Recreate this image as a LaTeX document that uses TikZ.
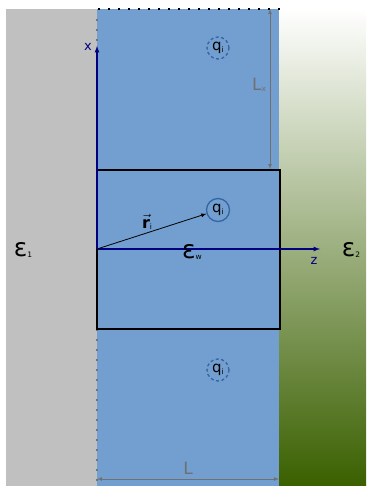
\documentclass[tikz,border=0pt]{standalone}
\usepackage{fontspec}
\usepackage{amsmath}
\setmainfont{DejaVu Sans}
\definecolor{slabgray}{HTML}{C0C0C0}
\definecolor{waterblue}{HTML}{729FCF}
\definecolor{chargeblue}{HTML}{3465A4}
\definecolor{mediumgreen}{HTML}{3A6000}
\definecolor{axisblue}{HTML}{000080}
\definecolor{dimgray}{HTML}{707070}
\newcommand{\tinysub}[1]{\raisebox{-1.5pt}{\fontsize{7.5}{7.5}\selectfont #1}}
\tikzset{
  charge/.style={circle,draw=chargeblue,line width=1.3pt,minimum size=23pt,
    inner sep=0pt,font=\fontsize{15}{15}\selectfont},
  imagecharge/.style={charge,dash pattern=on 3pt off 2.5pt,minimum size=22pt},
  dimline/.style={<->,draw=dimgray,line width=0.7pt},
  dimlabel/.style={text=dimgray,font=\fontsize{17}{17}\selectfont},
  epslabel/.style={font=\fontsize{25}{25}\selectfont},
  axislabel/.style={text=axisblue,font=\fontsize{13}{13}\selectfont}
}
\begin{document}
\begin{tikzpicture}[x=1pt,y=-1pt,>=latex]
  \useasboundingbox (0,0) rectangle (366,486);
  % media
  \fill[slabgray] (6,9) rectangle (97,486);
  \fill[waterblue] (97,9) rectangle (279,486);
  \shade[top color=white,bottom color=mediumgreen] (279,9) rectangle (366,486);
  \draw[black,line width=1.6pt,dash pattern=on 1.6pt off 8.4pt] (98,9) -- (280,9);
  \draw[black!55,line width=1.6pt,dash pattern=on 1.6pt off 8.4pt] (97,19) -- (97,486);
  % unit cell
  \draw[line width=1.4pt] (97,170) rectangle (280,329);
  % axes
  \coordinate (origin) at (97,249);
  \coordinate (xend) at (97,46);
  \coordinate (zend) at (320,249);
  \draw[->,axisblue,line width=1.2pt] (origin) -- (xend);
  \draw[->,axisblue,line width=1.2pt] (origin) -- (zend);
  \node[axislabel] (xlab) at (88,47) {x};
  \node[axislabel] (zlab) at (314,261) {z};
  % charges
  \node[imagecharge] (qtop) at (218,48) {q\tinysub{i}};
  \node[charge] (qmid) at (218,210) {q\tinysub{i}};
  \node[imagecharge] (qbot) at (218,370) {q\tinysub{i}};
  \draw[->,line width=0.8pt] (origin) -- (qmid);
  \node[font=\fontsize{16}{16}\selectfont] (rlab) at (147,222) {$\vec{\textbf{r}}$\tinysub{i}};
  % dimensions
  \coordinate (lxtop) at (270,9);
  \coordinate (lxbot) at (270,169);
  \draw[dimline] (lxtop) -- (lxbot);
  \node[dimlabel] (lxlab) at (259,85) {L\tinysub{x}};
  \coordinate (lleft) at (97,479);
  \coordinate (lright) at (279,479);
  \draw[dimline] (lleft) -- (lright);
  \node[dimlabel] (llab) at (188,468) {L};
  % permittivities
  \node[epslabel] (eps1) at (23,250) {ε\tinysub{1}};
  \node[epslabel] (epsw) at (192,252) {ε\tinysub{w}};
  \node[epslabel] (eps2) at (351,250) {ε\tinysub{2}};
\end{tikzpicture}
\end{document}
